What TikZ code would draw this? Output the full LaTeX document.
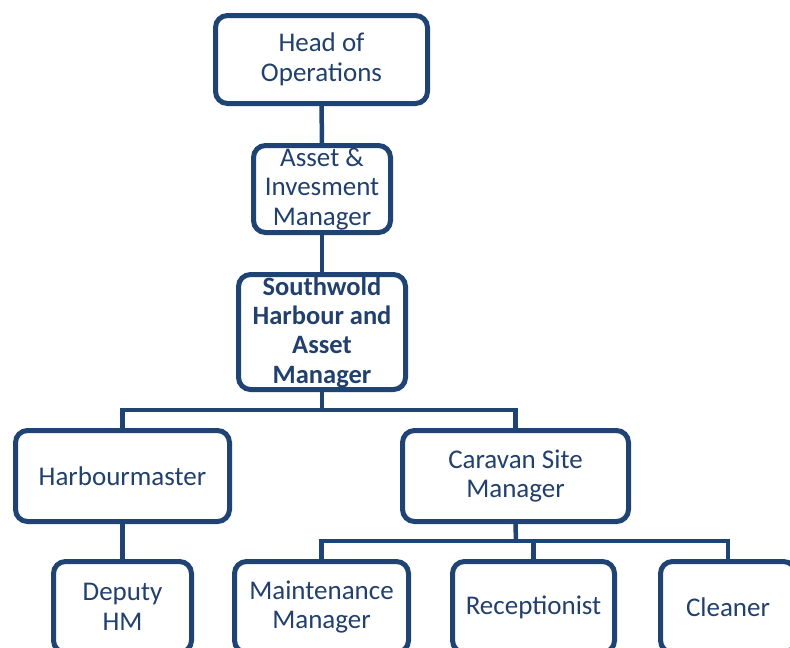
\documentclass[tikz,border=0pt]{standalone}
\usepackage{fontspec}
\setmainfont{Carlito}
\usepackage{tikz}
\usepackage{xcolor}
\definecolor{navy}{RGB}{31,67,115}
\definecolor{inkblue}{RGB}{33,64,110}

\tikzset{
  post/.style={draw=navy, line width=5pt, rounded corners=12pt, fill=white,
               align=center, text=inkblue, inner sep=2pt,
               font=\fontsize{27}{29.5}\selectfont},
  link/.style={draw=navy, line width=4.5pt}
}

\begin{document}
\begin{tikzpicture}[x=1pt, y=-1pt]
        \clip (0,0) rectangle (790,648);

        \node[post, minimum width=212pt, minimum height=88pt] (head) at (321.5,59.5) {Head of\\Operations};
        \node[post, minimum width=137pt, minimum height=87pt] (asset) at (322,189) {Asset \&\\Invesment\\Manager};
        \node[post, minimum width=167pt, minimum height=115pt, font=\fontsize{26.5}{29.3}\selectfont\bfseries] (harbmgr) at (322,332) {Southwold\\Harbour and\\Asset\\Manager};

        \node[post, minimum width=214pt, minimum height=91pt] (hm) at (122.5,476) {Harbourmaster};
        \node[post, minimum width=226pt, minimum height=91pt] (caravan) at (515.5,476) {Caravan Site\\Manager};

        \node[post, minimum width=138pt, minimum height=91pt] (deputy) at (122.5,607) {Deputy\\HM};
        \node[post, minimum width=174pt, minimum height=91pt] (maint) at (321.5,607) {Maintenance\\Manager};
        \node[post, minimum width=162pt, minimum height=91pt] (recep) at (533.5,607) {Receptionist};
        \node[post, minimum width=135pt, minimum height=91pt] (cleaner) at (728,607) {Cleaner};

        \coordinate (topbus) at (322,410);
        \coordinate (lowbus) at (516,541);

        \draw[link] (head) -- (asset);
        \draw[link] (asset) -- (harbmgr);
        \draw[link] (harbmgr.south) -- (topbus);
        \draw[link] (topbus) -| (hm.north);
        \draw[link] (topbus) -| (caravan.north);
        \draw[link] (hm) -- (deputy);
        \draw[link] (caravan.south) -- (lowbus);
        \draw[link] (lowbus) -| (maint.north);
        \draw[link] (lowbus) -| (cleaner.north);
        \draw[link] (lowbus) -| (recep.north);
      \end{tikzpicture}
\end{document}
